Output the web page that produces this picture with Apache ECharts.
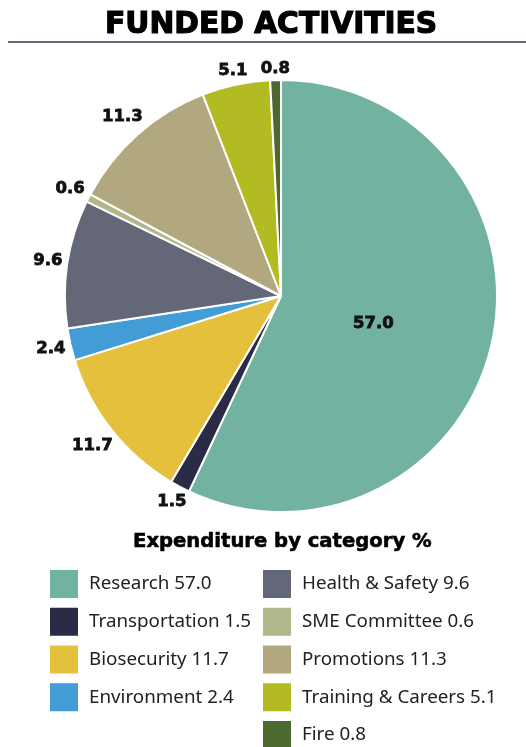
<!DOCTYPE html>
<html><head><meta charset="utf-8">
<script src="https://cdn.jsdelivr.net/npm/echarts@6/dist/echarts.min.js"></script>
<style>html,body{margin:0;padding:0;background:#fff}#c{width:526px;height:747px}</style>
</head><body><div id="c"></div>
<script>
const categories = ['Research','Transportation','Biosecurity','Environment','Health & Safety','SME Committee','Promotions','Training & Careers','Fire'];
const values = [57.0, 1.5, 11.7, 2.4, 9.6, 0.6, 11.3, 5.1, 0.8];
const colors = ['#72b2a0','#2a2c45','#e5c03c','#429dd6','#646778','#b0b88b','#b1a880','#b3bb22','#4c6a30'];
const leftLegend = categories.slice(0,4);
const rightLegend = categories.slice(4);

const CX = 281, CY = 296, R = 216, GAP = 4;
const chart = echarts.init(document.getElementById('c'));
const valMap = {};
categories.forEach((c,i)=>valMap[c]=values[i]);
const labelFont = {fontFamily:'DejaVu Sans', fontWeight:'bold', fontSize:16.5, color:'#111',
  textBorderColor:'#111', textBorderWidth:0.8};
const pieData = categories.map((c,i)=>{
  const d = {name:c, value:values[i], itemStyle:{color:colors[i]}};
  if (i===0) d.label = Object.assign({show:true, position:'inside', offset:[-16,4],
    formatter: p => p.value.toFixed(1)}, labelFont);
  return d;
});
const ringData = categories.map((c,i)=>({
  name:'lbl ' + c, value:values[i],
  label:{show: i!==0}
}));
const legendCommon = {
  orient:'vertical', top:570, height:260, padding:0, itemWidth:28, itemHeight:28, itemGap:9.75,
  icon:'rect', selectedMode:false,
  itemStyle:{borderWidth:0},
  textStyle:{fontFamily:'Noto Sans', fontSize:18.8, lineHeight:20, color:'#222', padding:[0,0,0,6]},
  formatter: n => n + ' ' + valMap[n].toFixed(1)
};
chart.setOption({
  animation:false,
  title:[
    {text:'FUNDED ACTIVITIES', left:105, top:10, padding:0,
     textStyle:{fontFamily:'DejaVu Sans', fontWeight:'bold', fontSize:29.7, color:'#000',
       textBorderColor:'#000', textBorderWidth:1.2}},
    {text:'Expenditure by category %', left:133, top:532, padding:0,
     textStyle:{fontFamily:'DejaVu Sans', fontWeight:'bold', fontSize:19.6, color:'#000',
       textBorderColor:'#000', textBorderWidth:0.6}}
  ],
  graphic:[{type:'line', shape:{x1:8,y1:42,x2:526,y2:42}, style:{stroke:'#666a7d', lineWidth:2}}],
  legend:[
    Object.assign({}, legendCommon, {left:50, data:leftLegend}),
    Object.assign({}, legendCommon, {left:263, data:rightLegend})
  ],
  series:[{
    type:'pie', center:[CX,CY], radius:[0,R], startAngle:90, clockwise:true,
    avoidLabelOverlap:false, silent:true,
    itemStyle:{borderColor:'#fff', borderWidth:2},
    label:{show:false},
    labelLine:{show:false},
    data:pieData
  },{
    type:'pie', center:[CX,CY], radius:[R,R+32], startAngle:90, clockwise:true,
    avoidLabelOverlap:false, silent:true,
    itemStyle:{color:'rgba(0,0,0,0)', borderWidth:0},
    label:Object.assign({show:true, position:'inside', formatter: p => p.value.toFixed(1)}, labelFont),
    labelLine:{show:false},
    labelLayout: function (p) {
      const r = p.labelRect;
      const cx = r.x + r.width/2, cy = r.y + r.height/2;
      let ux = cx - CX, uy = cy - CY;
      const len = Math.sqrt(ux*ux + uy*uy) || 1;
      ux /= len; uy /= len;
      const ext = (r.width/2)*Math.abs(ux) + 7*Math.abs(uy);
      const d = R + GAP + ext;
      return {x: CX + ux*d, y: CY + uy*d};
    },
    data:ringData
  }]
});
</script></body></html>
